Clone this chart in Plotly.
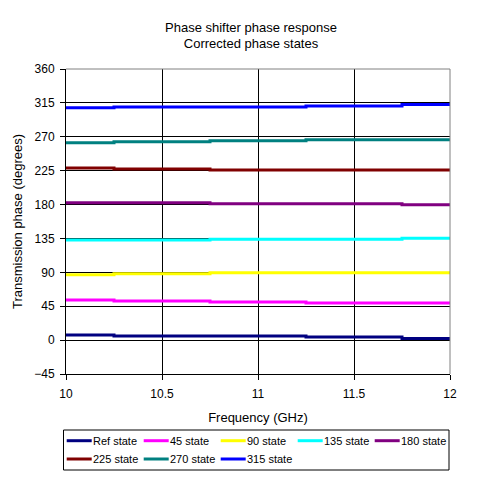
import plotly.graph_objects as go

freq = [10, 10.5, 11, 11.5, 12]
series_names = ["Ref state", "45 state", "90 state", "135 state", "180 state",
                "225 state", "270 state", "315 state"]
ref_state = [6.8, 5.4, 5.4, 4.1, 2.3]
s45 = [53.2, 51.9, 50.6, 49.2, 49.2]
s90 = [86.8, 88.1, 89.5, 89.5, 89.5]
s135 = [133.0, 133.0, 134.0, 134.0, 135.3]
s180 = [182.3, 182.3, 181.0, 181.0, 179.6]
s225 = [228.6, 227.3, 225.9, 225.9, 225.9]
s270 = [262.0, 263.4, 264.7, 266.0, 266.0]
s315 = [308.4, 309.7, 309.7, 311.0, 312.7]
series_values = [ref_state, s45, s90, s135, s180, s225, s270, s315]
colors = ["#000080", "#FF00FF", "#FFFF00", "#00FFFF", "#800080",
          "#800000", "#008080", "#0000FF"]
y_ticks = [-45, 0, 45, 90, 135, 180, 225, 270, 315, 360]
x_ticks = [10, 10.5, 11, 11.5, 12]

FONT = "Liberation Sans, Arial, sans-serif"

# figure geometry (page has an 8px body margin)
W, H = 495, 471
ML, MR, MT, MB = 58, 53, 61, 105
PW, PH = W - ML - MR, H - MT - MB


def px_x(px):
    return (px - ML) / PW


def px_y(py):
    return (H - MB - py) / PH


fig = go.Figure()
for name, vals, col in zip(series_names, series_values, colors):
    fig.add_trace(go.Scatter(x=freq, y=vals, name=name, mode="lines",
                             line=dict(color=col, width=3, shape="hvh"),
                             showlegend=False))

shapes = [
    dict(type="line", xref="x domain", yref="y domain", x0=0, x1=1, y0=1, y1=1,
         line=dict(color="#808080", width=1), layer="above"),
    dict(type="line", xref="x domain", yref="y domain", x0=1, x1=1, y0=0, y1=1,
         line=dict(color="#808080", width=1), layer="above"),
    # legend box
    dict(type="rect", xref="paper", yref="paper",
         x0=px_x(55.5), x1=px_x(441), y0=px_y(422), y1=px_y(462),
         line=dict(color="black", width=1), fillcolor="white", layer="above"),
]
annotations = []
for i, (name, col) in enumerate(zip(series_names, colors)):
    c, r = i % 5, i // 5
    x0 = 58.7 + 77 * c
    yc = 432.7 + 18.3 * r
    shapes.append(dict(type="line", xref="paper", yref="paper",
                       x0=px_x(x0), x1=px_x(x0 + 25), y0=px_y(yc), y1=px_y(yc),
                       line=dict(color=col, width=3), layer="above"))
    annotations.append(dict(text=name, xref="paper", yref="paper",
                            x=px_x(x0 + 25.5), y=px_y(yc), xanchor="left",
                            yanchor="middle", showarrow=False, borderpad=0,
                            font=dict(family=FONT, size=11, color="black")))

fig.update_layout(
    width=W, height=H,
    margin=dict(l=ML, r=MR, t=MT, b=MB, autoexpand=False),
    paper_bgcolor="white", plot_bgcolor="white",
    font=dict(family=FONT, size=12, color="black"),
    title=dict(text="Phase shifter phase response<br>Corrected phase states",
               x=243 / W, xref="container", xanchor="center",
               y=1 - 23.5 / H, yref="container", yanchor="middle",
               font=dict(family=FONT, size=13, color="black")),
    showlegend=False,
    shapes=shapes,
    annotations=annotations,
)
fig.update_xaxes(range=[10, 12], tickvals=x_ticks, showgrid=True, gridcolor="black",
                 gridwidth=1, showline=True, linecolor="black", linewidth=1,
                 ticks="outside", ticklen=5, tickcolor="black", zeroline=False,
                 tickfont=dict(size=12), ticklabelstandoff=4,
                 title=dict(text="Frequency (GHz)", font=dict(size=13), standoff=12))
fig.update_yaxes(range=[-45, 360], tickvals=y_ticks, showgrid=True, gridcolor="black",
                 gridwidth=1, showline=True, linecolor="black", linewidth=1,
                 ticks="outside", ticklen=5, tickcolor="black", zeroline=False,
                 tickfont=dict(size=12), ticklabelstandoff=3,
                 title=dict(text="Transmission phase (degrees)", font=dict(size=13),
                            standoff=8))

fig.write_html("out.html")
